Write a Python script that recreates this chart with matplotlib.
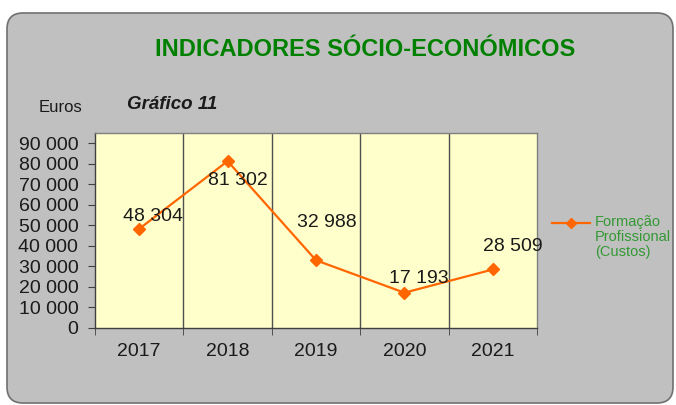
import matplotlib.pyplot as plt
from matplotlib.patches import FancyBboxPatch
from matplotlib.lines import Line2D

# dados do gráfico
anos = ["2017", "2018", "2019", "2020", "2021"]
custos = [48304, 81302, 32988, 17193, 28509]
y_ticks = [0, 10000, 20000, 30000, 40000, 50000, 60000, 70000, 80000, 90000]
serie_nome = "Formação\nProfissional\n(Custos)"

# deslocamento dos rótulos (pixels)
label_offsets = [(14, 12), (10, -19), (11, 38), (14, 14), (20, 23)]

def fmt(v):
    return f"{v:,}".replace(",", " ")

plt.rcParams['font.family'] = ['Liberation Sans', 'DejaVu Sans']

fig = plt.figure(figsize=(6.76, 4.05), dpi=100)
fig.patch.set_facecolor('white')

# caixa cinzenta arredondada
caixa = FancyBboxPatch((0.07, 0.02), 6.66, 3.90,
                       boxstyle="round,pad=0,rounding_size=0.16",
                       transform=fig.dpi_scale_trans,
                       facecolor='#C0C0C0', edgecolor='#707070', linewidth=1.2,
                       zorder=-5)
fig.patches.append(caixa)

ax = fig.add_axes([95 / 676, 77 / 405, 442 / 676, 195 / 405])
ax.set_zorder(2)
ax.set_facecolor('#FFFFCC')

x = list(range(len(anos)))
ax.plot(x, custos, color='#FF6600', linewidth=1.6, marker='D', markersize=6,
        zorder=3)

for xi, v, (dx, dy) in zip(x, custos, label_offsets):
    ax.annotate(fmt(v), (xi, v), xytext=(dx, dy), textcoords='offset pixels',
                ha='center', va='center', fontsize=14, color='#1a1a1a', zorder=4)

ax.set_xlim(-0.5, len(anos) - 0.5)
ax.set_ylim(0, 95000)
ax.set_yticks(y_ticks)
ax.set_yticklabels([fmt(t) for t in y_ticks], fontsize=14, color='#1a1a1a')
ax.set_xticks(x)
ax.set_xticklabels(anos, fontsize=14, color='#1a1a1a')
ax.tick_params(axis='x', which='major', length=0, pad=11)
ax.set_xticks([i - 0.5 for i in range(len(anos) + 1)], minor=True)
ax.tick_params(axis='x', which='minor', length=5, color='#404040', direction='out')
ax.tick_params(axis='y', length=5, color='#404040', direction='out', pad=7)

for b in [i + 0.5 for i in range(len(anos) - 1)]:
    ax.axvline(b, color='#505050', linewidth=1.0, zorder=1)

for s in ax.spines.values():
    s.set_color('#808080')
    s.set_linewidth(1.0)
ax.spines['left'].set_color('#404040')
ax.spines['bottom'].set_color('#404040')

# legenda
ly = 1 - 223 / 405
fig.add_artist(Line2D([552 / 676, 571 / 676, 590 / 676], [ly, ly, ly],
                      transform=fig.transFigure, color='#FF6600', linewidth=1.6,
                      marker='D', markersize=5, markevery=[1]))
fig.text(595 / 676, 1 - 215 / 405, serie_nome, ha='left', va='top',
         fontsize=10.5, color='#339933', linespacing=1.1)

fig.text(365 / 676, 1 - 49 / 405, "INDICADORES SÓCIO-ECONÓMICOS",
         ha='center', va='center', fontsize=17, fontweight='bold', color='#008000')
fig.text(60 / 676, 1 - 108 / 405, "Euros", ha='center', va='center',
         fontsize=12, color='#1a1a1a')
fig.text(127 / 676, 1 - 104 / 405, "Gráfico 11", ha='left', va='center',
         fontsize=13.5, fontweight='bold', fontstyle='italic', color='#1a1a1a')

fig.savefig('out.png', dpi=100)
